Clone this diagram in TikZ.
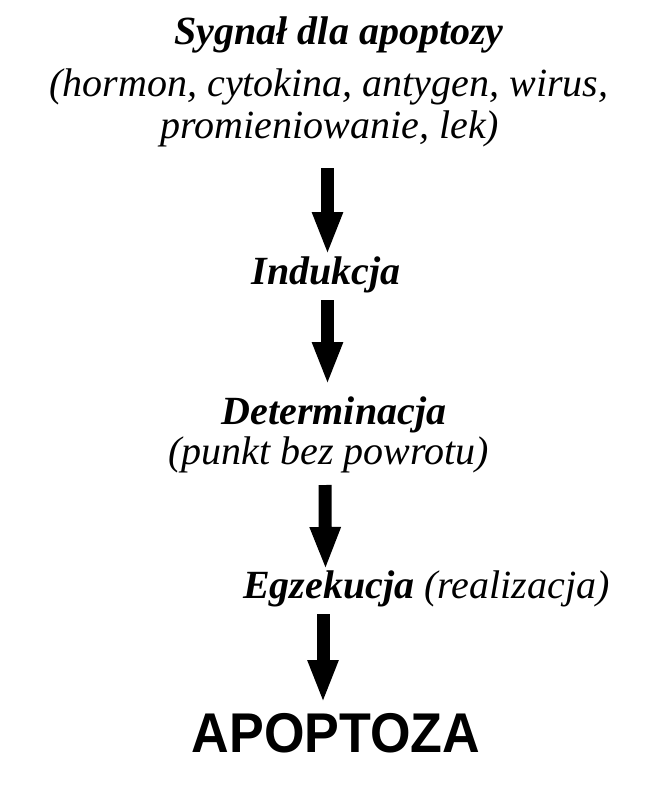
\documentclass[tikz,border=0pt]{standalone}
\usepackage{fontspec}
\setmainfont{Liberation Serif}
\newfontfamily\apfont{Liberation Sans}[FakeStretch=0.93]
\usetikzlibrary{arrows.meta}
\begin{document}
\begin{tikzpicture}[x=1pt,y=-1pt,
  txt/.style={inner sep=0pt, anchor=base, font=\fontsize{40}{48}\selectfont\itshape},
  btxt/.style={inner sep=0pt, anchor=base, font=\fontsize{40}{48}\selectfont\bfseries\itshape},
  final/.style={inner sep=0pt, anchor=base, font=\apfont\fontsize{56}{64}\selectfont\bfseries},
  bigarrow/.style={line width=13pt, -{Triangle[length=43pt,width=28pt]}}]
\useasboundingbox[fill=white] (0,0) rectangle (657,785);
\node[btxt] (sig) at (339,44) {Sygnał dla apoptozy};
\node[txt] (ex1) at (329,96) {(hormon, cytokina, antygen, wirus,};
\node[txt] (ex2) at (330,138) {promieniowanie, lek)};
\node[btxt] (ind) at (326,284) {Indukcja};
\node[btxt] (det) at (334,424) {Determinacja};
\node[txt] (pkt) at (328.5,464) {(punkt bez powrotu)};
\node[inner sep=0pt, anchor=base west, font=\fontsize{40}{48}\selectfont\itshape] (egz) at (243,598) {\textbf{Egzekucja} (realizacja)};
\node[final] (apo) at (336,752) {APOPTOZA};
\coordinate (a1s) at (327.5,168);
\coordinate (a1e) at (327.5,255);
\coordinate (a2s) at (327.5,300);
\coordinate (a2e) at (327.5,385);
\coordinate (a3s) at (325,485);
\coordinate (a3e) at (325.5,570);
\coordinate (a4s) at (323,614);
\coordinate (a4e) at (323,703);
\draw[bigarrow] (a1s) -- (a1e);
\draw[bigarrow] (a2s) -- (a2e);
\draw[bigarrow] (a3s) -- (a3e);
\draw[bigarrow] (a4s) -- (a4e);
\end{tikzpicture}
\end{document}
